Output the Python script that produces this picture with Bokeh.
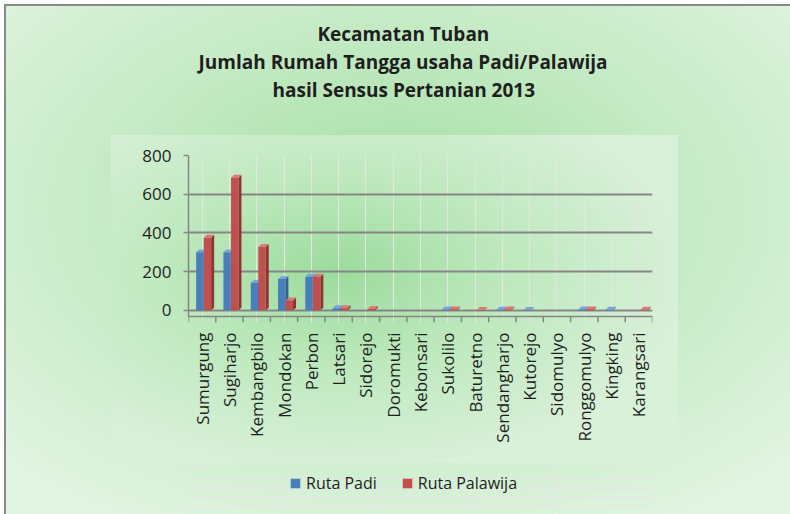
import math
import numpy as np
from bokeh.plotting import figure
from bokeh.layouts import column
from bokeh.models import (FactorRange, Range1d, LinearAxis, CategoricalAxis, FixedTicker,
                          Legend, LegendItem, Grid, Title)
from bokeh.embed import file_html
from bokeh.resources import INLINE

# ---------------- data ----------------
districts = ["Sumurgung", "Sugiharjo", "Kembangbilo", "Mondokan", "Perbon", "Latsari",
             "Sidorejo", "Doromukti", "Kebonsari", "Sukolilo", "Baturetno", "Sendangharjo",
             "Kutorejo", "Sidomulyo", "Ronggomulyo", "Kingking", "Karangsari"]
ruta_padi = [300, 300, 143, 162, 174, 12, 0, 0, 0, 5, 0, 4, 3, 0, 5, 4, 0]
ruta_palawija = [376, 685, 328, 52, 174, 12, 8, 0, 0, 6, 3, 5, 0, 0, 6, 0, 4]
y_ticks = [0, 200, 400, 600, 800]
title_lines = ["Kecamatan Tuban",
               "Jumlah Rumah Tangga usaha Padi/Palawija",
               "hasil Sensus Pertanian 2013"]
series_names = ["Ruta Padi", "Ruta Palawija"]

FONT = "Open Sans"
GRAY = "#868686"
TXT = "#1e1e1e"
BLUE, BLUE_SIDE, BLUE_TOP = "#4a7ebb", "#345e96", "#7aa3d8"
RED, RED_SIDE, RED_TOP = "#c0504d", "#8c3533", "#d97a77"

bg_css = ("radial-gradient(ellipse 62% 60% at 40% 42%, #9cdb9c 0%, #bfe9bf 50%, #d9f0d9 100%) "
          "107px 131px / 567px 328px no-repeat, "
          "radial-gradient(ellipse 70% 70% at 50% 40%, #a3dfa3 0%, #c4eac4 50%, #e1f4e1 100%)")

FLOOR = -31     # front edge of the floor (value units)
TICK_END = -62  # end of the small ticks below the floor

p = figure(width=786, height=466,
           x_range=FactorRange(factors=districts, range_padding=0, factor_padding=0),
           y_range=Range1d(TICK_END, 800),
           output_backend="svg", toolbar_location=None,
           x_axis_location=None, y_axis_location=None,
           min_border_left=184, min_border_right=138,
           min_border_top=151, min_border_bottom=148)
p.border_fill_alpha = 0
p.background_fill_alpha = 0
p.outline_line_color = None

# grid on back wall
grid = Grid(dimension=1, ticker=FixedTicker(ticks=y_ticks),
            grid_line_color=GRAY, grid_line_width=2)
p.add_layout(grid)

# y axis
yaxis = LinearAxis(ticker=FixedTicker(ticks=y_ticks), bounds=(FLOOR, 800))
yaxis.axis_line_color = GRAY
yaxis.axis_line_width = 1.5
yaxis.major_tick_line_color = GRAY
yaxis.major_tick_line_width = 1.5
yaxis.major_tick_out = 5
yaxis.major_tick_in = 0
yaxis.minor_tick_line_color = None
yaxis.major_label_standoff = 12
yaxis.major_label_text_font = FONT
yaxis.major_label_text_font_size = "17px"
yaxis.major_label_text_color = TXT
p.add_layout(yaxis, "left")

xaxis = CategoricalAxis()
xaxis.axis_line_color = None
xaxis.major_tick_line_color = None
xaxis.major_tick_out = 0
xaxis.major_tick_in = 0
xaxis.major_label_orientation = math.pi / 2
xaxis.major_label_standoff = 10
xaxis.major_label_text_font = FONT
xaxis.major_label_text_font_size = "17px"
xaxis.major_label_text_color = TXT
p.add_layout(xaxis, "below")

# floor front edge and category-boundary ticks (synthetic coordinates of the factor range)
n = len(districts)
bounds_x = np.arange(n + 1, dtype=float)
p.segment(x0=[0.0], y0=[FLOOR], x1=[float(n)], y1=[FLOOR], line_color=GRAY, line_width=1.5)
p.segment(x0=bounds_x, y0=FLOOR, x1=bounds_x, y1=TICK_END, line_color=GRAY, line_width=1.5)

# ---------------- 3D-look bars ----------------
cx = np.arange(n) + 0.5
W, DX, DY = 0.27, 0.11, 15.0
styles = [(-0.22, BLUE, BLUE_SIDE, BLUE_TOP), (0.06, RED, RED_SIDE, RED_TOP)]
for vals, (off, c_front, c_side, c_top) in zip([ruta_padi, ruta_palawija], styles):
    v = np.array(vals, dtype=float)
    m = v > 0
    left = cx[m] + off
    right = left + W
    vv = v[m]
    side_xs = [[r, r + DX, r + DX, r] for r in right]
    side_ys = [[0, DY, h + DY, h] for h in vv]
    top_xs = [[l, r, r + DX, l + DX] for l, r in zip(left, right)]
    top_ys = [[h, h, h + DY, h + DY] for h in vv]
    p.patches(xs=side_xs, ys=side_ys, fill_color=c_side, line_color=None)
    p.patches(xs=top_xs, ys=top_ys, fill_color=c_top, line_color=None)
    p.quad(left=left, right=right, bottom=0, top=vv, fill_color=c_front, line_color=None)

# ---------------- title (stacked outward from the frame) ----------------
FRAME_L = 188
title_left = [317, 198, 272]
p.add_layout(Title(text=" ", text_font_size="19px", standoff=30), "above")   # spacer
for t, lx in reversed(list(zip(title_lines, title_left))):
    p.add_layout(Title(text=t, align="left", offset=lx - FRAME_L, standoff=0,
                       text_font=FONT, text_font_style="bold", text_font_size="19px",
                       text_color=TXT), "above")

# ---------------- legend strip ----------------
lf = figure(width=786, height=44, x_range=Range1d(0, 1), y_range=Range1d(0, 1),
            output_backend="svg", toolbar_location=None,
            x_axis_location=None, y_axis_location=None,
            min_border_left=0, min_border_right=0, min_border_top=0, min_border_bottom=0)
lf.border_fill_alpha = 0
lf.background_fill_alpha = 0
lf.outline_line_color = None
# legend proxies (kept outside the visible range)
r_blue = lf.quad(left=[-3], right=[-2], bottom=[-3], top=[-2], fill_color=BLUE, line_color=None)
r_red = lf.quad(left=[-3], right=[-2], bottom=[-3], top=[-2], fill_color=RED, line_color=None)
legend = Legend(items=[LegendItem(label=series_names[0], renderers=[r_blue]),
                       LegendItem(label=series_names[1], renderers=[r_red])],
                orientation="horizontal", location=(289 - FRAME_L, 20),
                background_fill_alpha=0, border_line_color=None, padding=0, margin=0,
                spacing=24, label_standoff=5, glyph_width=12, glyph_height=12,
                label_text_font=FONT, label_text_font_size="16px", label_text_color=TXT)
lf.add_layout(legend)

page = column(p, lf, spacing=0,
              styles={"margin-left": "4px", "margin-top": "4px", "background": bg_css,
                      "box-shadow": "inset 2px 2px 0 #8a8a8a"})

open("out.html", "w").write(file_html(page, INLINE))
